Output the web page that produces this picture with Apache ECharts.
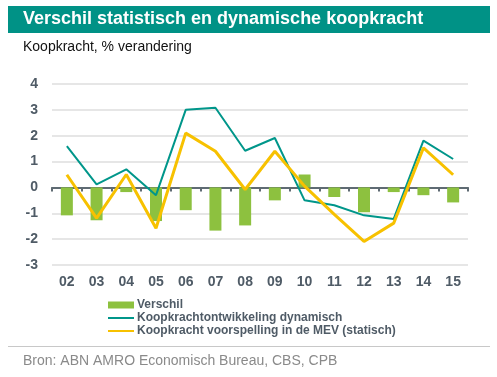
<!DOCTYPE html>
<html>
<head>
<meta charset="utf-8">
<script src="https://cdn.jsdelivr.net/npm/echarts@6/dist/echarts.min.js"></script>
<style>
html,body{margin:0;padding:0;background:#fff;}
#chart{width:497px;height:377px;}
</style>
</head>
<body>
<div id="chart"></div>
<script>
var jaren = ['02','03','04','05','06','07','08','09','10','11','12','13','14','15'];
var verschil = [-1.08,-1.27,-0.18,-1.3,-0.88,-1.67,-1.47,-0.5,0.5,-0.37,-0.96,-0.18,-0.3,-0.58];
var dynamisch = [1.6,0.12,0.7,-0.3,3.0,3.08,1.42,1.91,-0.5,-0.69,-1.08,-1.22,1.81,1.1];
var statisch = [0.49,-1.19,0.5,-1.58,2.1,1.4,-0.08,1.4,0.05,-1.04,-2.09,-1.38,1.53,0.49];

var chart = echarts.init(document.getElementById('chart'));
var labelKleur = '#4f5b66';
var font = 'Arial, "Liberation Sans"';
var option = {
	animation: false,
	backgroundColor: '#fff',
	graphic: [
		{ type: 'rect', left: 8, top: 6, shape: { width: 482, height: 27 }, style: { fill: '#009286' } },
		{ type: 'text', left: 23, top: 10, style: { text: 'Verschil statistisch en dynamische koopkracht', fill: '#fff', font: 'bold 18px ' + font } },
		{ type: 'text', left: 23, top: 40, style: { text: 'Koopkracht, % verandering', fill: '#111', font: '14px ' + font } },
		{ type: 'rect', left: 8, top: 346, shape: { width: 482, height: 1 }, style: { fill: '#c8c8c8' } },
		{ type: 'text', left: 23, top: 354, style: { text: 'Bron: ABN AMRO Economisch Bureau, CBS, CPB', fill: '#8a8a8a', font: '14px ' + font } }
	],
	grid: { left: 52, right: 29, top: 84, bottom: 112 },
	legend: {
		orient: 'vertical',
		left: 102,
		top: 294,
		itemWidth: 26,
		itemHeight: 7,
		itemGap: 1,
		textStyle: { color: labelKleur, fontSize: 12, fontWeight: 'bold', fontFamily: font, padding: [0, 0, 0, -2] },
		data: [
			{ name: 'Verschil', icon: 'rect' },
			{ name: 'Koopkrachtontwikkeling dynamisch', itemStyle: { opacity: 0 } },
			{ name: 'Koopkracht voorspelling in de MEV (statisch)', itemStyle: { opacity: 0 } }
		]
	},
	xAxis: [{
		type: 'category',
		data: jaren,
		axisLine: { onZero: true, lineStyle: { color: '#5f6b73', width: 2 } },
		axisTick: { show: true, length: 4, lineStyle: { color: '#5f6b73', width: 2 } },
		axisLabel: { show: false }
	}, {
		// categorie-labels onderaan (as ligt op nul)
		type: 'category',
		data: jaren,
		position: 'bottom',
		axisLine: { show: false },
		axisTick: { show: false },
		axisLabel: { color: labelKleur, fontSize: 14, fontWeight: 'bold', fontFamily: font, margin: 10 }
	}],
	yAxis: {
		type: 'value',
		min: -3,
		max: 4,
		interval: 1,
		axisLine: { show: false },
		axisTick: { show: false },
		splitLine: { lineStyle: { color: '#dedede', width: 1.5 } },
		axisLabel: { color: labelKleur, fontSize: 14, fontWeight: 'bold', fontFamily: font, margin: 14 }
	},
	series: [
		{
			name: 'Verschil',
			type: 'bar',
			data: verschil,
			barWidth: 12,
			itemStyle: { color: '#8dc13f' }
		},
		{
			name: 'Koopkrachtontwikkeling dynamisch',
			type: 'line',
			data: dynamisch,
			symbol: 'none',
			itemStyle: { color: '#00968a' },
			lineStyle: { color: '#00968a', width: 2 }
		},
		{
			name: 'Koopkracht voorspelling in de MEV (statisch)',
			type: 'line',
			data: statisch,
			symbol: 'none',
			itemStyle: { color: '#f7c100' },
			lineStyle: { color: '#f7c100', width: 3 }
		}
	]
};
chart.setOption(option);
</script>
</body>
</html>
